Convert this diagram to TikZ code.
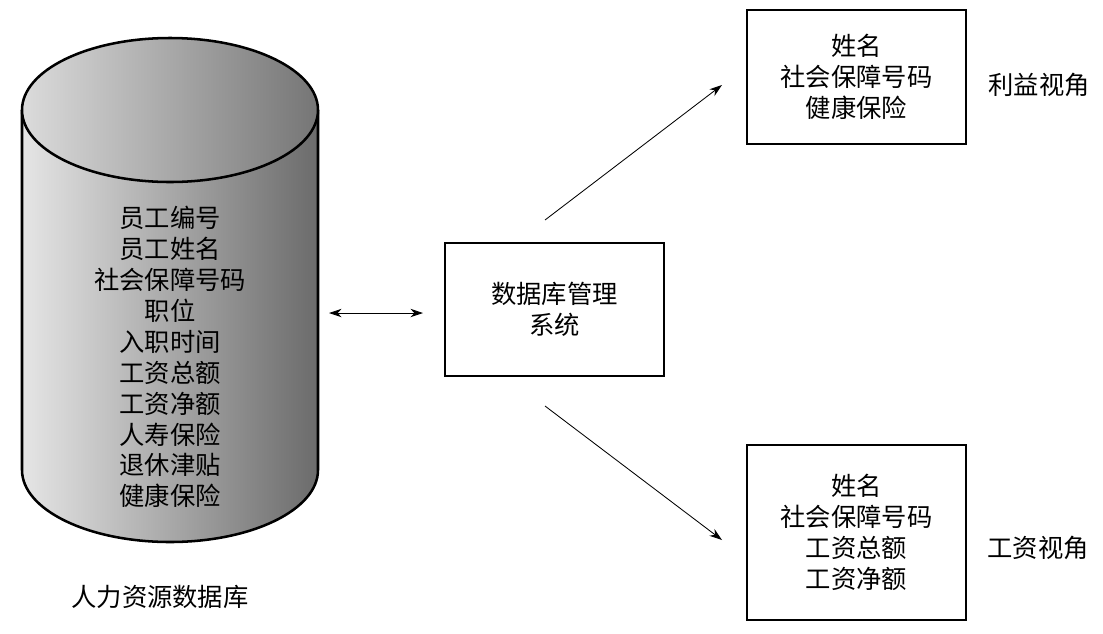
\documentclass[tikz,border=0pt]{standalone}
\usepackage{fontspec}
\newfontfamily\cjk{Noto Sans CJK SC}
\usetikzlibrary{arrows.meta}
\definecolor{sidelight}{gray}{0.9}
\definecolor{sidedark}{gray}{0.42}
\definecolor{toplight}{gray}{0.86}
\definecolor{topdark}{gray}{0.46}
\tikzset{
  viewbox/.style={draw,line width=1.8pt,minimum width=5.475cm,align=center},
  link/.style={line width=0.6pt,-{Stealth[length=9pt,width=6pt]}},
}
\begin{document}
\begin{tikzpicture}[x=0.025cm,y=-0.025cm,font=\cjk\fontsize{18pt}{22pt}\selectfont]
\useasboundingbox (0,0) rectangle (1103,633);
% database cylinder
\shade[left color=sidelight,right color=sidedark] (22,110) -- (22,470)
  arc[start angle=180,end angle=0,x radius=148,y radius=72] -- (318,110) -- cycle;
\draw[line width=1.8pt] (22,110) -- (22,470)
  arc[start angle=180,end angle=0,x radius=148,y radius=72] -- (318,110);
\shade[left color=toplight,right color=topdark,draw,line width=1.8pt]
  (170,110) ellipse[x radius=148,y radius=72];
\node[align=center] (fields) at (170,357) {员工编号\\员工姓名\\社会保障号码\\职位\\入职时间\\工资总额\\工资净额\\人寿保险\\退休津贴\\健康保险};
\node (dblabel) at (160,597) {人力资源数据库};
% dbms and views
\node[viewbox,minimum height=3.325cm] (dbms) at (554.5,309.5) {数据库管理\\系统};
\node[viewbox,minimum height=3.35cm] (benefit) at (856.5,77) {姓名\\社会保障号码\\健康保险};
\node[viewbox,minimum height=4.375cm] (payroll) at (856.5,532.5) {姓名\\社会保障号码\\工资总额\\工资净额};
\node (benlabel) at (1039,85) {利益视角};
\node (paylabel) at (1038,548) {工资视角};
% connectors
\coordinate (dbr) at (329,313);
\coordinate (dbl) at (423,313);
\coordinate (upa) at (545,220);
\coordinate (upb) at (722,85);
\coordinate (loa) at (545,406);
\coordinate (lob) at (722,540);
\draw[link,{Stealth[length=9pt,width=6pt]}-{Stealth[length=9pt,width=6pt]}] (dbr) -- (dbl);
\draw[link] (upa) -- (upb);
\draw[link] (loa) -- (lob);
\end{tikzpicture}
\end{document}
